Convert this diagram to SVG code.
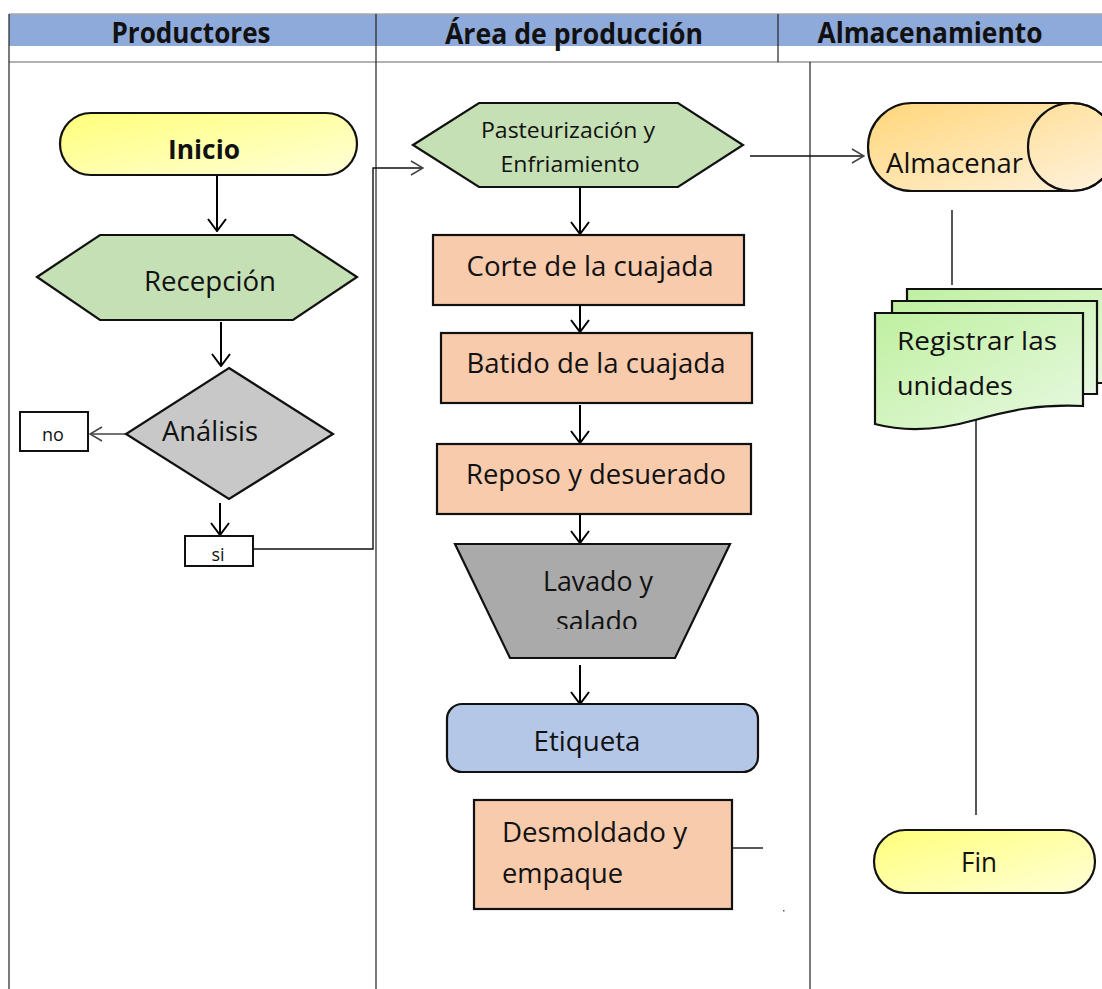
<svg xmlns="http://www.w3.org/2000/svg" width="1102" height="989" viewBox="0 0 1102 989">
<defs>
<linearGradient id="gYel" x1="0" y1="0" x2="1" y2="1"><stop offset="0" stop-color="#ffff7a"/><stop offset="1" stop-color="#ffffd8"/></linearGradient>
<linearGradient id="gOra" x1="0" y1="0" x2="1" y2="1"><stop offset="0" stop-color="#ffd67a"/><stop offset="1" stop-color="#fff2de"/></linearGradient>
<linearGradient id="gGrn" x1="0" y1="0" x2="1" y2="1"><stop offset="0" stop-color="#bff0a0"/><stop offset="1" stop-color="#e8f9e2"/></linearGradient>
<marker id="arr" viewBox="0 0 14 20" refX="13" refY="10" markerWidth="14" markerHeight="20" markerUnits="userSpaceOnUse" orient="auto"><path d="M1,1 L13,10 L1,19" fill="none" stroke="#000" stroke-width="2"/></marker>
<marker id="arrG" viewBox="0 0 14 16" refX="13" refY="8" markerWidth="14" markerHeight="16" markerUnits="userSpaceOnUse" orient="auto"><path d="M1,1 L13,8 L1,15" fill="none" stroke="#444" stroke-width="1.5"/></marker>
<clipPath id="clipLav"><rect x="450" y="540" width="290" height="89"/></clipPath>
</defs>
<style>
text{font-family:"Open Sans","Liberation Sans",sans-serif;fill:#111}
.hdr{font-weight:bold;font-size:28px}
.lbl{font-size:28px}
.sm{font-size:18px}
.shape{stroke:#111;stroke-width:2.2}
.proc{fill:#f8cbad}
.conn{fill:none;stroke:#000;stroke-width:2}
.thin{fill:none;stroke:#111;stroke-width:1.4}
.grid{stroke:#222;stroke-width:1.2}
</style>
<rect width="1102" height="989" fill="#fff"/>

<g id="lanes">
<rect x="9" y="14" width="1093" height="32" fill="#8eaadb"/>
<line x1="9" y1="14" x2="1102" y2="14" stroke="#a8a8a8" stroke-width="1.5"/>
<line x1="9" y1="62" x2="1102" y2="62" stroke="#999" stroke-width="1.5"/>
<line class="grid" x1="9" y1="14" x2="9" y2="989"/>
<line class="grid" x1="376" y1="14" x2="376" y2="989"/>
<line class="grid" x1="778" y1="14" x2="778" y2="62"/>
<line class="grid" x1="810" y1="62" x2="810" y2="989"/>
<text class="hdr" x="191" y="43" text-anchor="middle" textLength="159" lengthAdjust="spacingAndGlyphs">Productores</text>
<text class="hdr" x="574" y="44" text-anchor="middle" textLength="258" lengthAdjust="spacingAndGlyphs">Área de producción</text>
<text class="hdr" x="930" y="43" text-anchor="middle" textLength="225" lengthAdjust="spacingAndGlyphs">Almacenamiento</text>
</g>

<g id="connectors">
<line class="conn" x1="217" y1="176" x2="217" y2="231" marker-end="url(#arr)"/>
<line class="conn" x1="221" y1="322" x2="221" y2="366" marker-end="url(#arr)"/>
<line x1="125" y1="434" x2="90" y2="434" fill="none" stroke="#444" stroke-width="1.5" marker-end="url(#arrG)"/>
<line class="conn" x1="220" y1="503" x2="220" y2="535" marker-end="url(#arr)"/>
<polyline class="thin" points="253,549 373,549 373,168 423,168" marker-end="url(#arrG)"/>
<line class="thin" x1="750" y1="156" x2="864" y2="156" marker-end="url(#arrG)"/>
<line class="conn" x1="580" y1="180" x2="580" y2="234" marker-end="url(#arr)"/>
<line class="conn" x1="580" y1="305" x2="580" y2="332" marker-end="url(#arr)"/>
<line class="conn" x1="580" y1="405" x2="580" y2="443" marker-end="url(#arr)"/>
<line class="conn" x1="580" y1="514" x2="580" y2="543" marker-end="url(#arr)"/>
<line class="conn" x1="580" y1="665" x2="580" y2="704" marker-end="url(#arr)"/>
<line class="thin" x1="732" y1="848" x2="763" y2="848"/>
<line class="thin" x1="952" y1="210" x2="952" y2="285"/>
<line class="thin" x1="976" y1="402" x2="976" y2="815"/>
<rect x="783" y="910" width="1.5" height="1.5" fill="#555"/>
</g>

<g id="inicio">
<rect class="shape" x="60" y="113" width="297" height="62" rx="31" fill="url(#gYel)"/>
<text x="204" y="159" text-anchor="middle" font-size="27" font-weight="bold" textLength="72" lengthAdjust="spacingAndGlyphs">Inicio</text>
</g>

<g id="recepcion">
<polygon class="shape" points="37,277 100,235 293,235 357,277 293,320 100,320" fill="#c5e0b4"/>
<text class="lbl" x="210" y="291" text-anchor="middle" textLength="132" lengthAdjust="spacingAndGlyphs">Recepción</text>
</g>

<g id="analisis">
<polygon class="shape" points="229,368 333,434 229,499 126,434" fill="#c8c8c8"/>
<text class="lbl" x="210" y="441" text-anchor="middle" textLength="96" lengthAdjust="spacingAndGlyphs">Análisis</text>
</g>

<g id="no">
<rect x="20" y="412" width="68" height="39" fill="#fff" stroke="#111" stroke-width="2"/>
<text class="sm" x="53" y="441" text-anchor="middle">no</text>
</g>

<g id="si">
<rect x="185" y="536" width="68" height="30" fill="#fff" stroke="#111" stroke-width="2"/>
<text class="sm" x="218" y="561" text-anchor="middle">si</text>
</g>

<g id="pasteurizacion">
<polygon class="shape" points="413,145 479,103 678,103 743,145 678,187 479,187" fill="#c5e0b4"/>
<text x="568" y="138" text-anchor="middle" font-size="21" textLength="174" lengthAdjust="spacingAndGlyphs">Pasteurización y</text>
<text x="570" y="172" text-anchor="middle" font-size="21" textLength="139" lengthAdjust="spacingAndGlyphs">Enfriamiento</text>
</g>

<g id="corte">
<rect class="shape proc" x="433" y="235" width="311" height="70"/>
<text class="lbl" x="590" y="276" text-anchor="middle" textLength="247" lengthAdjust="spacingAndGlyphs">Corte de la cuajada</text>
</g>

<g id="batido">
<rect class="shape proc" x="441" y="333" width="311" height="70"/>
<text class="lbl" x="596" y="373" text-anchor="middle" textLength="259" lengthAdjust="spacingAndGlyphs">Batido de la cuajada</text>
</g>

<g id="reposo">
<rect class="shape proc" x="437" y="444" width="314" height="70"/>
<text class="lbl" x="596" y="484" text-anchor="middle" textLength="260" lengthAdjust="spacingAndGlyphs">Reposo y desuerado</text>
</g>

<g id="lavado">
<polygon class="shape" points="455,544 730,544 675,658 510,658" fill="#aaaaaa"/>
<text class="lbl" x="598" y="591" text-anchor="middle" textLength="110" lengthAdjust="spacingAndGlyphs">Lavado y</text>
<text class="lbl" x="597" y="631" text-anchor="middle" textLength="82" lengthAdjust="spacingAndGlyphs" clip-path="url(#clipLav)">salado</text>
</g>

<g id="etiqueta">
<rect class="shape" x="447" y="704" width="311" height="68" rx="15" fill="#b4c7e7"/>
<text class="lbl" x="587" y="751" text-anchor="middle" textLength="107" lengthAdjust="spacingAndGlyphs">Etiqueta</text>
</g>

<g id="desmoldado">
<rect class="shape proc" x="474" y="800" width="258" height="109"/>
<text class="lbl" x="502" y="842" textLength="185" lengthAdjust="spacingAndGlyphs">Desmoldado y</text>
<text class="lbl" x="502" y="883" textLength="121" lengthAdjust="spacingAndGlyphs">empaque</text>
</g>

<g id="almacenar">
<path class="shape" d="M912,103 H1072 A44,44 0 0 1 1072,191 H912 A44,44 0 0 1 912,103 Z" fill="url(#gOra)"/>
<ellipse class="shape" cx="1072" cy="147" rx="44" ry="44" fill="none"/>
<text class="lbl" x="886" y="173" textLength="137" lengthAdjust="spacingAndGlyphs">Almacenar</text>
</g>

<g id="registrar">
<path class="shape" d="M907,289 H1120 V383 H907 Z" fill="url(#gGrn)"/>
<path class="shape" d="M892,301 H1097 V394 H892 Z" fill="url(#gGrn)"/>
<path class="shape" d="M875,313 H1083 V406 C1040,404 1010,410 975,420 C940,430 905,432 875,424 Z" fill="url(#gGrn)"/>
<text x="897" y="350" font-size="26" textLength="160" lengthAdjust="spacingAndGlyphs">Registrar las</text>
<text x="897" y="395" font-size="26" textLength="116" lengthAdjust="spacingAndGlyphs">unidades</text>
</g>

<g id="fin">
<rect class="shape" x="874" y="830" width="221" height="63" rx="31.5" fill="url(#gYel)"/>
<text class="lbl" x="979" y="872" text-anchor="middle" textLength="36" lengthAdjust="spacingAndGlyphs">Fin</text>
</g>
</svg>
